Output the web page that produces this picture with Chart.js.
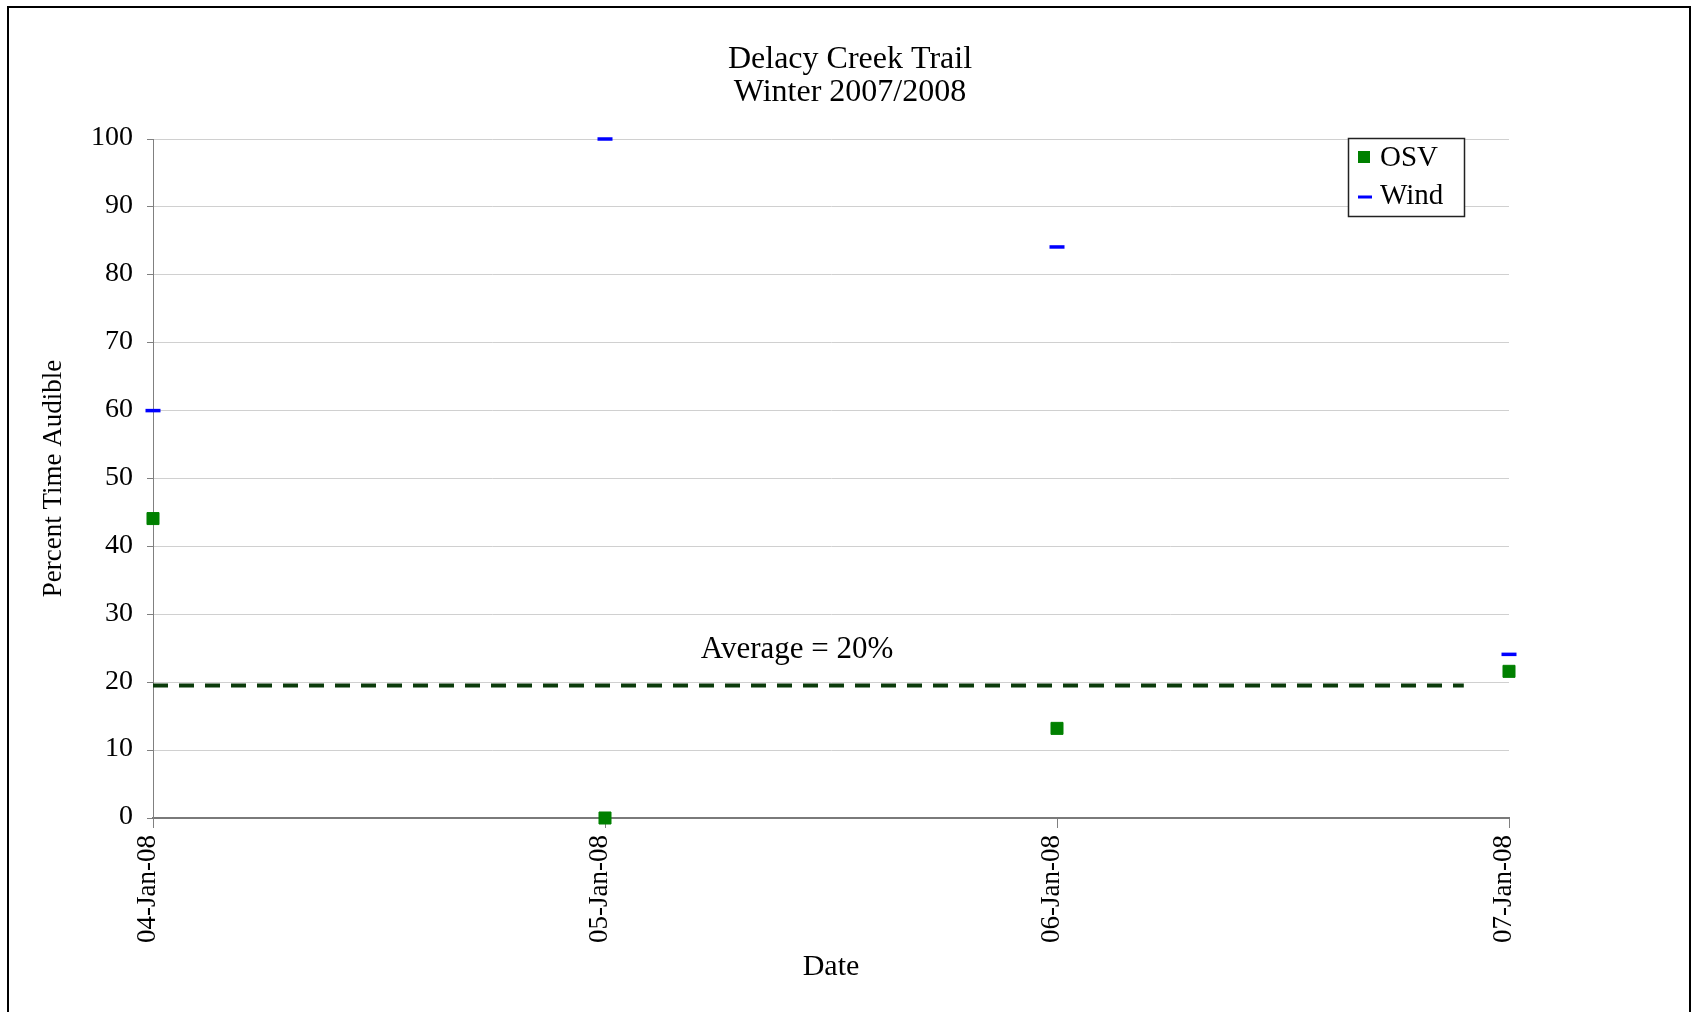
<!DOCTYPE html>
<html><head><meta charset="utf-8">
<script src="https://cdn.jsdelivr.net/npm/chart.js@4.4.1/dist/chart.umd.min.js"></script>
<style>html,body{margin:0;padding:0;background:#fff;} canvas{display:block;}</style>
</head><body>
<canvas id="c" width="1692" height="1012"></canvas>
<script>
// ---- data ----
const titleLines = ['Delacy Creek Trail', 'Winter 2007/2008'];
const dateLabels = ['04-Jan-08', '05-Jan-08', '06-Jan-08', '07-Jan-08'];
const dayIndex = [0, 1, 2, 3];
const osvValues = [44.1, 0, 13.2, 21.6];
const windValues = [60, 100, 84.1, 24.1];
const averageValue = 19.5;
const averageSpan = [0, 2.9];
const averageText = 'Average = 20%';
const seriesNames = ['OSV', 'Wind'];
const xAxisTitle = 'Date';
const yAxisTitle = 'Percent Time Audible';
const yMin = 0, yMax = 100, yStep = 10;

const FONT = '"Liberation Serif", "Times New Roman", serif';
const OSV_COLOR = '#008000';
const WIND_COLOR = '#0000ff';
const AVG_COLOR = '#0b3b0b';

const osvPoints = dayIndex.map((d, i) => ({x: d, y: osvValues[i]}));
const windPoints = dayIndex.map((d, i) => ({x: d, y: windValues[i]}));
const avgPoints = averageSpan.map(x => ({x: x, y: averageValue}));

const decorPlugin = {
  id: 'decor',
  beforeDraw(chart) {
    const ctx = chart.ctx;
    ctx.save();
    ctx.fillStyle = '#fff';
    ctx.fillRect(0, 0, chart.width, chart.height);
    ctx.strokeStyle = '#000';
    ctx.lineWidth = 2;
    ctx.strokeRect(8, 7, 1682, 1100);
    ctx.restore();
  },
  afterDraw(chart) {
    const ctx = chart.ctx;
    const xs = chart.scales.x, ys = chart.scales.y;
    ctx.save();
    // title
    ctx.fillStyle = '#000';
    ctx.font = '32px ' + FONT;
    ctx.textAlign = 'center';
    ctx.textBaseline = 'middle';
    ctx.fillText(titleLines[0], 850, 60);
    ctx.fillText(titleLines[1], 850, 93);
    // average label
    ctx.font = '31px ' + FONT;
    ctx.textBaseline = 'alphabetic';
    ctx.fillText(averageText, xs.getPixelForValue(1.425), ys.getPixelForValue(23.5));
    // legend box
    const lx = 1348, ly = 138, lw = 116, lh = 78;
    ctx.fillStyle = '#fff';
    ctx.fillRect(lx, ly, lw, lh);
    ctx.strokeStyle = '#222';
    ctx.lineWidth = 1.5;
    ctx.strokeRect(lx + 0.5, ly + 0.5, lw, lh);
    ctx.fillStyle = OSV_COLOR;
    ctx.fillRect(1358, 151, 12, 12);
    ctx.strokeStyle = WIND_COLOR;
    ctx.lineWidth = 3;
    ctx.beginPath();
    ctx.moveTo(1358, 197); ctx.lineTo(1372, 197);
    ctx.stroke();
    ctx.fillStyle = '#000';
    ctx.font = '29px ' + FONT;
    ctx.textAlign = 'left';
    ctx.textBaseline = 'alphabetic';
    ctx.fillText(seriesNames[0], 1380, 166);
    ctx.fillText(seriesNames[1], 1380, 204);
    ctx.restore();
  }
};

new Chart(document.getElementById('c'), {
  type: 'scatter',
  data: {
    datasets: [
      {
        label: seriesNames[0], data: osvPoints, clip: false,
        pointStyle: 'rect', pointRadius: 8.5, pointBorderWidth: 1,
        backgroundColor: OSV_COLOR, borderColor: OSV_COLOR, order: 1
      },
      {
        label: seriesNames[1], data: windPoints, clip: false,
        pointStyle: 'line', pointRadius: 7.5, pointBorderWidth: 3.5,
        backgroundColor: WIND_COLOR, borderColor: WIND_COLOR, order: 2
      },
      {
        label: 'Average', data: avgPoints, showLine: true, pointRadius: 0,
        borderColor: AVG_COLOR, borderWidth: 4, borderDash: [15, 11], order: 3
      }
    ]
  },
  options: {
    responsive: false,
    animation: false,
    events: [],
    layout: {padding: {left: 0, right: 183, top: 139, bottom: 0}},
    plugins: {
      legend: {display: false},
      tooltip: {enabled: false},
      title: {display: false}
    },
    scales: {
      x: {
        type: 'linear', min: 0, max: 3,
        afterFit(s) { s.height = 194; },
        afterBuildTicks(s) { s.ticks = dayIndex.map(v => ({value: v})); },
        ticks: {
          callback: (v) => dateLabels[v],
          autoSkip: false, minRotation: 90, maxRotation: 90,
          color: '#000', font: {family: FONT, size: 27}, padding: 7, labelOffset: -5
        },
        grid: {drawOnChartArea: false, tickLength: 10, tickColor: '#808080', tickWidth: 1},
        border: {display: true, color: '#7a7a7a', width: 2},
        title: {display: true, text: xAxisTitle, color: '#000',
          font: {family: FONT, size: 30}, padding: {top: 0, bottom: 27}}
      },
      y: {
        min: yMin, max: yMax,
        afterFit(s) { s.width = 153; },
        ticks: {stepSize: yStep, color: '#000', font: {family: FONT, size: 28}, padding: 14, labelOffset: -1},
        grid: {color: '#d0d0d0', lineWidth: 1, tickLength: 6, tickColor: '#808080'},
        border: {display: true, color: '#808080', width: 1},
        title: {display: true, text: yAxisTitle, color: '#000',
          font: {family: FONT, size: 27}, padding: {top: 38, bottom: 0}}
      }
    }
  },
  plugins: [decorPlugin]
});
</script>
</body></html>
